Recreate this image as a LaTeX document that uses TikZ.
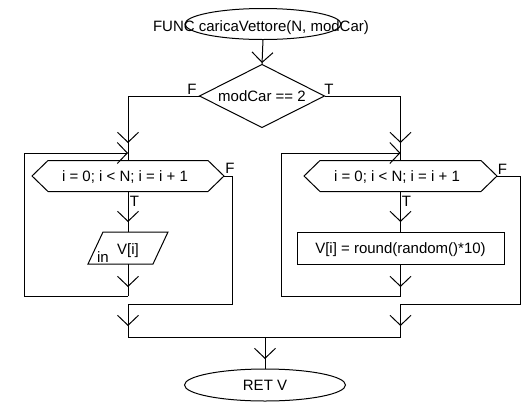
\documentclass[tikz,border=0pt]{standalone}
\usepackage{fontspec}
\setmainfont{Liberation Sans}
\usepackage{tikz}
\usetikzlibrary{calc}
\usetikzlibrary{shapes.geometric,arrows.meta}
\usetikzlibrary{decorations.markings}

\tikzset{
  punta/.tip={Straight Barb[length=10pt, width=21pt]},
  linea/.style={line width=1pt},
  testo/.style={font=\fontsize{15}{18}\selectfont, inner sep=0pt, outer sep=0pt, text height=10.7pt, text depth=0pt},
  blocco/.style={testo, draw, line width=1pt},
  flusso/.style={linea, postaction={decorate}, decoration={markings, mark=at position -#1 with {\arrow{punta}}}},
}

\begin{document}
\begin{tikzpicture}[x=1pt, y=-1pt]
    \useasboundingbox (0,0) rectangle (528,408);
    %INIZIO
    \node[blocco, ellipse, minimum width=156pt, minimum height=31pt] (inizio) at (263,24) {};
    \node[testo, anchor=base] (inizioTesto) at (261,31) {FUNC caricaVettore(N, modCar)};
    %CONDIZIONE
    \node[blocco, diamond, aspect=2, minimum width=125pt, minimum height=63pt] (cond) at (262,96) {modCar == 2};
        \node[testo, anchor=base] (condF) at (192,94) {F};
        \node[testo, anchor=base] (condT) at (329,94) {T};
    %CICLO SINISTRA
    \node[testo, minimum width=192pt, minimum height=31pt] (cicloS) at (128,176) {};
    \node[testo] (cicloSTesto) at (125,176) {i = 0; i < N; i = i + 1};
    \draw[linea] (cicloS.west) -- ($(cicloS.north west)+(16,0)$) -- ($(cicloS.north east)+(-16,0)$) -- (cicloS.east)
        -- ($(cicloS.south east)+(-16,0)$) -- ($(cicloS.south west)+(16,0)$) -- cycle;
        \node[testo, anchor=base] (cicloSF) at (230,173) {F};
        \node[testo, anchor=base] (cicloST) at (134.5,206) {T};
    %INPUT
    \node[testo, minimum width=80pt, minimum height=32pt] (leggi) at (128,248) {};
    \draw[linea] ($(leggi.north west)+(15,0)$) -- (leggi.north east) -- ($(leggi.south east)+(-15,0)$) -- (leggi.south west) -- cycle;
        \node[testo, anchor=base] (leggiTesto) at (128,254) {V[i]};
        \node[testo, anchor=base] (leggiIn) at (103,262) {in};
    %CICLO DESTRA
    \node[testo, minimum width=193pt, minimum height=31pt] (cicloD) at (400.5,176) {};
    \node[testo] (cicloDTesto) at (397,176) {i = 0; i < N; i = i + 1};
    \draw[linea] (cicloD.west) -- ($(cicloD.north west)+(16,0)$) -- ($(cicloD.north east)+(-16,0)$) -- (cicloD.east)
        -- ($(cicloD.south east)+(-16,0)$) -- ($(cicloD.south west)+(16,0)$) -- cycle;
        \node[testo, anchor=base] (cicloDF) at (502.5,174) {F};
        \node[testo, anchor=base] (cicloDT) at (406.5,206) {T};
    %ASSEGNAZIONE
    \node[blocco, minimum width=207pt, minimum height=32pt] (assegna) at (400.5,248) {V[i] = round(random()*10)};
    %FINE
    \node[blocco, ellipse, minimum width=161pt, minimum height=32pt] (fine) at (265,385) {RET V};

    %PUNTI
    \coordinate (giuntoS) at (128,153);
    \coordinate (giuntoD) at (400.5,153);
    \coordinate (ritornoS) at (128,296);
    \coordinate (angoloS) at (24,296);
    \coordinate (ritornoD) at (400.5,296);
    \coordinate (angoloD) at (281,296);
    \coordinate (uscitaS) at (232,304);
    \coordinate (uscitaD) at (520,304);
    \coordinate (unioneS) at (128,337);
    \coordinate (unioneD) at (400.5,337);
    \coordinate (unioneM) at (265,337);

    %FRECCE
    \draw[flusso=1.5pt] (inizio.south) -- (cond.north);
    \draw[flusso=10pt] (cond.west) -| (giuntoS);
    \draw[flusso=10pt] (cond.east) -| (giuntoD);
    %SINISTRA
    \draw[linea] (giuntoS) -- (cicloS.north);
    \draw[flusso=10pt] (cicloS.south) -- (leggi.north);
    \draw[flusso=9pt] (leggi.south) -- (ritornoS);
    \draw[linea, -punta] (ritornoS) -- (angoloS) |- (giuntoS);
    \draw[flusso=11pt] (cicloS.east) -| (uscitaS) -| (unioneS);
    %DESTRA
    \draw[linea] (giuntoD) -- (cicloD.north);
    \draw[flusso=10pt] (cicloD.south) -- (assegna.north);
    \draw[flusso=9pt] (assegna.south) -- (ritornoD);
    \draw[linea, -punta] (ritornoD) -- (angoloD) |- (giuntoD);
    \draw[flusso=11pt] (cicloD.east) -| (uscitaD) -| (unioneD);
    %UNIONE
    \draw[linea] (unioneS) -- (unioneD);
    \draw[flusso=10pt] (unioneM) -- (fine.north);
\end{tikzpicture}
\end{document}
